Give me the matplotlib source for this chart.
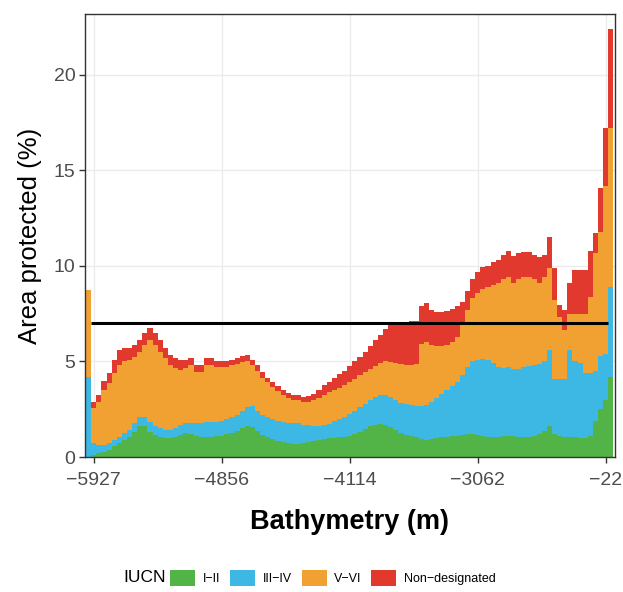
import numpy as np
import matplotlib
matplotlib.use("Agg")
import matplotlib.pyplot as plt
from matplotlib.patches import Patch

plt.rcParams["font.family"] = ["Liberation Sans", "DejaVu Sans"]

# ---- data: cumulative tops of each stacked layer per depth bin (% area) ----
top_i_ii = [
    0.0, 0.1, 0.2, 0.28, 0.37, 0.55, 0.72, 0.9, 1.05, 1.3,
    1.6, 1.6, 1.3, 1.15, 1.05, 1.0, 1.0, 1.05, 1.15, 1.25,
    1.2, 1.1, 1.05, 1.05, 1.05, 1.1, 1.1, 1.2, 1.25, 1.35,
    1.5, 1.6, 1.55, 1.35, 1.15, 1.05, 0.95, 0.85, 0.8, 0.75,
    0.7, 0.7, 0.75, 0.8, 0.85, 0.9, 0.95, 1.0, 1.0, 1.05,
    1.05, 1.1, 1.2, 1.3, 1.45, 1.6, 1.7, 1.75, 1.7, 1.55,
    1.4, 1.25, 1.15, 1.1, 1.05, 0.95, 0.9, 0.95, 1.0, 1.05,
    1.05, 1.1, 1.1, 1.15, 1.2, 1.2, 1.15, 1.1, 1.05, 1.05,
    1.05, 1.1, 1.1, 1.1, 1.05, 1.05, 1.05, 1.1, 1.2, 1.35,
    1.6, 1.2, 1.1, 1.05, 1.05, 1.05, 1.0, 1.0, 1.1, 1.9,
    2.5, 3.0, 4.2]
top_iii_iv = [
    4.2, 0.72, 0.63, 0.63, 0.72, 0.9, 1.05, 1.25, 1.4, 1.8,
    2.1, 2.1, 1.85, 1.6, 1.5, 1.4, 1.4, 1.5, 1.65, 1.8,
    1.8, 1.8, 1.8, 1.85, 1.85, 1.85, 1.9, 2.0, 2.1, 2.2,
    2.4, 2.6, 2.65, 2.4, 2.2, 2.1, 2.0, 1.9, 1.85, 1.8,
    1.8, 1.8, 1.7, 1.65, 1.6, 1.6, 1.65, 1.75, 1.9, 2.0,
    2.1, 2.25, 2.4, 2.6, 2.8, 3.0, 3.15, 3.25, 3.25, 3.15,
    3.0, 2.85, 2.75, 2.7, 2.65, 2.65, 2.7, 2.9, 3.1, 3.3,
    3.5, 3.7, 3.9, 4.3, 4.7, 5.0, 5.1, 5.15, 5.1, 4.9,
    4.7, 4.65, 4.7, 4.6, 4.6, 4.7, 4.75, 4.8, 4.85, 5.0,
    5.6, 4.1, 4.1, 4.1, 5.6, 5.0, 4.9, 4.4, 4.4, 4.5,
    5.3, 5.4, 8.9]
top_v_vi = [
    8.75, 2.55, 2.9, 3.5, 3.85, 4.4, 4.8, 5.0, 5.1, 5.25,
    5.5, 5.85, 6.1, 5.85, 5.5, 5.2, 4.8, 4.65, 4.55, 4.65,
    4.8, 4.45, 4.45, 4.8, 4.8, 4.7, 4.7, 4.7, 4.8, 4.85,
    4.95, 5.05, 4.8, 4.5, 4.15, 3.9, 3.65, 3.45, 3.25, 3.1,
    3.0, 3.0, 2.9, 2.9, 3.0, 3.1, 3.25, 3.4, 3.5, 3.6,
    3.75, 3.9, 4.1, 4.3, 4.45, 4.6, 4.75, 4.9, 5.0, 4.95,
    4.9, 4.85, 4.8, 4.8, 4.85, 5.9, 6.0, 5.85, 5.8, 5.8,
    5.85, 6.0, 6.3, 6.9, 7.7, 8.3, 8.6, 8.8, 8.9, 9.0,
    9.1, 9.3, 9.4, 9.1, 9.3, 9.4, 9.4, 9.3, 9.1, 9.4,
    9.9, 8.2, 7.35, 6.65, 7.5, 7.5, 7.5, 7.5, 8.4, 10.7,
    11.8, 14.2, 17.2]
top_total = [
    8.75, 2.9, 3.25, 4.0, 4.4, 5.1, 5.6, 5.7, 5.7, 5.85,
    6.1, 6.5, 6.75, 6.5, 6.1, 5.7, 5.35, 5.2, 5.1, 5.1,
    5.2, 4.8, 4.8, 5.2, 5.2, 5.0, 5.0, 5.0, 5.1, 5.2,
    5.3, 5.35, 5.1, 4.8, 4.45, 4.15, 3.9, 3.7, 3.5, 3.35,
    3.25, 3.25, 3.15, 3.2, 3.3, 3.5, 3.75, 3.95, 4.15, 4.35,
    4.5, 4.75, 5.0, 5.25, 5.5, 5.8, 6.1, 6.4, 6.7, 6.9,
    7.0, 7.05, 7.05, 7.1, 7.1, 7.9, 8.05, 7.7, 7.6, 7.6,
    7.65, 7.75, 7.9, 8.1, 8.7, 9.3, 9.7, 9.95, 10.0, 10.2,
    10.3, 10.6, 10.8, 10.5, 10.7, 10.75, 10.75, 10.6, 10.45, 10.6,
    11.5, 9.9, 7.95, 7.7, 9.1, 9.8, 9.8, 9.8, 10.8, 11.7,
    14.1, 17.2, 22.4]

tick_bins = [1, 26, 51, 76, 101]
tick_labels = ["\u22125927", "\u22124856", "\u22124114", "\u22123062", "\u221222"]
target = 7.0

categories = ["I\u2212II", "III\u2212IV", "V\u2212VI", "Non\u2212designated"]
colors = ["#52B447", "#3DB8E5", "#F0A132", "#E2392F"]

# ---- stack ----
tops = np.array([top_i_ii, top_iii_iv, top_v_vi, top_total])
bottoms = np.vstack([np.zeros(tops.shape[1]), tops[:-1]])
heights = np.clip(tops - bottoms, 0, None)
x = np.arange(tops.shape[1])

fig = plt.figure(figsize=(6.23, 5.92), dpi=100)
ax = fig.add_axes([85 / 623, 1 - 457 / 592, 530 / 623, 443 / 592])

for k in range(4):
    ax.bar(x, heights[k], bottom=bottoms[k], width=1.0, color=colors[k],
           linewidth=0, zorder=2)

ax.hlines(target, tick_bins[0] - 0.5, tick_bins[-1] + 0.5, color="black",
          lw=2.2, zorder=3)

ax.set_xlim(-0.7, 102.8)
ax.set_ylim(0, 23.19)
ax.set_xticks(tick_bins)
ax.set_xticklabels(tick_labels)
ax.set_yticks([0, 5, 10, 15, 20])
ax.grid(True, color="#EBEBEB", lw=1.0, zorder=0)
ax.set_axisbelow(True)
for s in ax.spines.values():
    s.set_color("#333333")
    s.set_linewidth(1.0)
ax.tick_params(axis="both", length=4, width=1, color="#333333",
               labelcolor="#4D4D4D", labelsize=14)
ax.tick_params(axis="x", pad=7)
ax.tick_params(axis="y", pad=3)

ax.set_xlabel("Bathymetry (m)", fontsize=19.5, fontweight="bold", labelpad=14)
ax.set_ylabel("Area protected (%)", fontsize=18.5, labelpad=8)

# ---- legend at bottom ----
fig.text(166 / 623, 1 - 578 / 592, "IUCN", fontsize=12.5, ha="right", va="center")
handles = [Patch(facecolor=c, edgecolor="none") for c in colors]
fig.legend(handles, categories, loc="center left", ncol=4,
           bbox_to_anchor=(170 / 623, 1 - 578 / 592), frameon=False,
           fontsize=9, handlelength=2.0, handleheight=1.7,
           handletextpad=0.6, columnspacing=0.8, borderaxespad=0,
           borderpad=0)

fig.savefig("out.png", dpi=100)
